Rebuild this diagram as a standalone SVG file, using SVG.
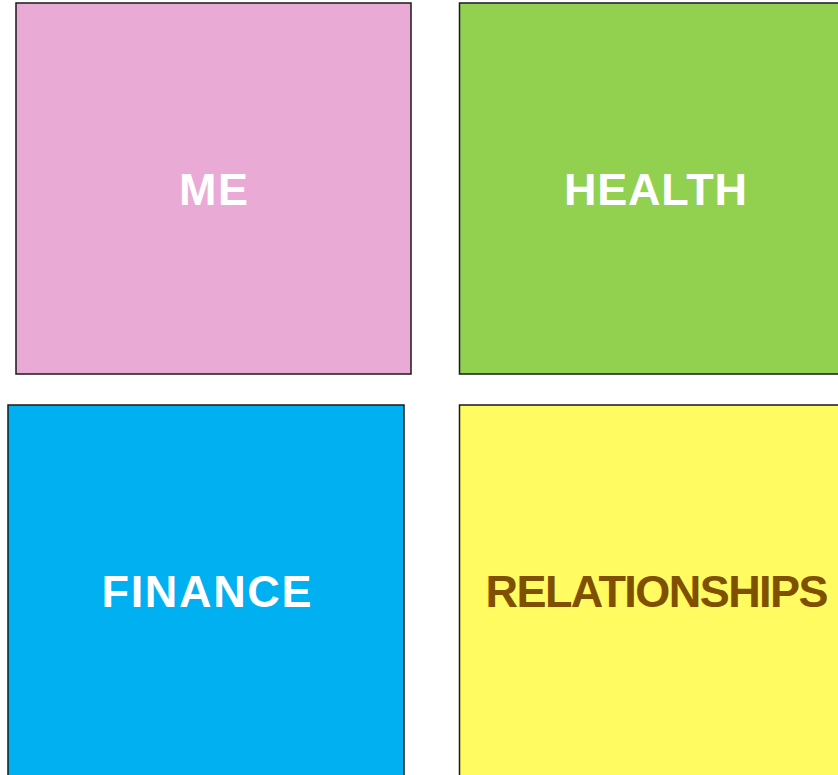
<svg xmlns="http://www.w3.org/2000/svg" width="838" height="775" viewBox="0 0 838 775">
  <style>
    .box { stroke: #1a1a1a; stroke-width: 1.5; }
    .label { font-family: "Liberation Sans", Arial, sans-serif; font-weight: bold; font-size: 45px; text-anchor: middle; }
  </style>
  <rect width="838" height="775" fill="#ffffff"/>
  <g id="me">
    <rect class="box" x="16" y="3" width="395" height="371" fill="#EAAAD6"/>
    <text class="label" x="213.5" y="205" fill="#ffffff" textLength="69">ME</text>
  </g>
  <g id="health">
    <rect class="box" x="459.5" y="3" width="395" height="371" fill="#92D050"/>
    <text class="label" x="655.5" y="205" fill="#ffffff" textLength="183">HEALTH</text>
  </g>
  <g id="finance">
    <rect class="box" x="8" y="405" width="396" height="372" fill="#00B0F0"/>
    <text class="label" x="206.5" y="606.5" fill="#ffffff" textLength="210">FINANCE</text>
  </g>
  <g id="relationships">
    <rect class="box" x="459.5" y="405" width="395" height="372" fill="#FFFB60"/>
    <text class="label" x="657" y="606.5" fill="#7F5000" textLength="343">RELATIONSHIPS</text>
  </g>
  <g id="connectors"></g>
</svg>
